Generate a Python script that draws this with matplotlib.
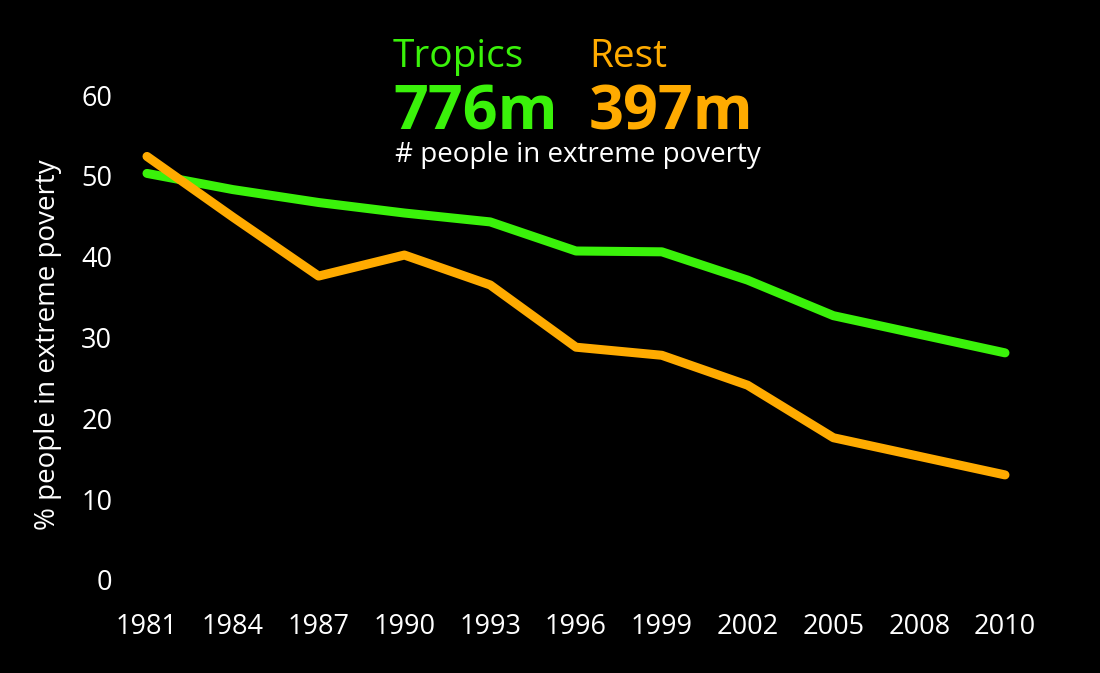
import matplotlib.pyplot as plt

plt.rcParams["font.family"] = ["Open Sans", "DejaVu Sans"]

years = ["1981", "1984", "1987", "1990", "1993", "1996", "1999", "2002", "2005", "2008", "2010"]
tropics = [50.3, 48.3, 46.7, 45.4, 44.3, 40.7, 40.6, 37.1, 32.7, 30.4, 28.1]
rest = [52.4, 44.9, 37.6, 40.2, 36.5, 28.8, 27.8, 24.1, 17.6, 15.3, 13.0]
yticks = [0, 10, 20, 30, 40, 50, 60]

green = "#3af20a"
orange = "#ffab00"

fig = plt.figure(figsize=(11, 6.73), dpi=100, facecolor="black")
ax = fig.add_axes([147 / 1100, 93 / 673, (1005 - 147) / 1100, (580 - 95) / 673])
ax.set_facecolor("black")

x = list(range(len(years)))
ax.plot(x, tropics, color=green, lw=6.5, solid_capstyle="round", solid_joinstyle="round", clip_on=False)
ax.plot(x, rest, color=orange, lw=6.5, solid_capstyle="round", solid_joinstyle="round", clip_on=False)

ax.set_xlim(0, len(years) - 1)
ax.set_ylim(0, 60)
ax.set_xticks(x)
ax.set_xticklabels(years)
ax.set_yticks(yticks)
ax.tick_params(colors="white", labelsize=19.5, length=0)
ax.tick_params(axis="y", pad=25)
ax.tick_params(axis="x", pad=24)
for s in ax.spines.values():
    s.set_visible(False)

fig.text(48 / 1100, 1 - 345 / 673, "% people in extreme poverty", rotation=90,
         color="white", fontsize=20, ha="center", va="center")

fig.text(393 / 1100, 1 - 67 / 673, "Tropics", color=green, fontsize=28, ha="left", va="baseline")
fig.text(589 / 1100, 1 - 67 / 673, "Rest", color=orange, fontsize=28, ha="left", va="baseline")
fig.text(393 / 1100, 1 - 130 / 673, "776m", color=green, fontsize=44, fontweight="bold", ha="left", va="baseline")
fig.text(589 / 1100, 1 - 130 / 673, "397m", color=orange, fontsize=44, fontweight="bold", ha="left", va="baseline")
fig.text(395 / 1100, 1 - 162 / 673, "# people in extreme poverty", color="white", fontsize=20, ha="left", va="baseline")

fig.savefig("out.png", dpi=100, facecolor="black")
